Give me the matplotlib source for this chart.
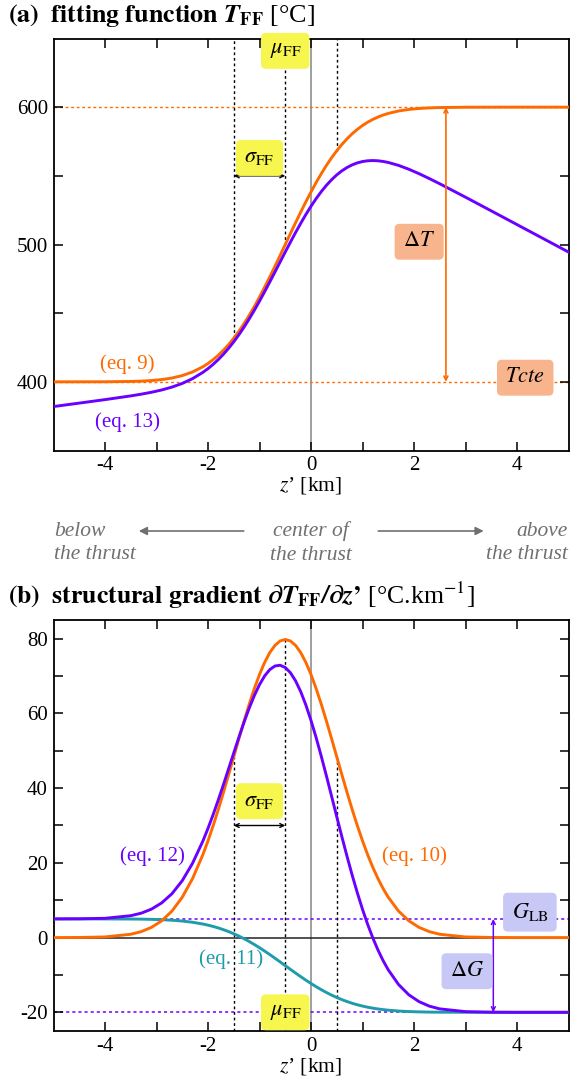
import matplotlib.pyplot as plt
from matplotlib.patches import FancyArrowPatch

plt.rcParams['font.family'] = ['Liberation Serif', 'DejaVu Serif']
plt.rcParams['mathtext.fontset'] = 'stix'
plt.rcParams['axes.unicode_minus'] = False

# depth relative to the thrust, km
z_km = [-5.0, -4.5, -4.0, -3.5, -3.3, -3.1, -2.9, -2.7, -2.5, -2.3, -2.1,
        -2.0, -1.9, -1.8, -1.7, -1.6, -1.5, -1.4, -1.3, -1.2, -1.1, -1.0, -0.9, -0.8,
        -0.7, -0.6, -0.5, -0.4, -0.3, -0.2, -0.1, 0.0, 0.1, 0.2, 0.3, 0.4, 0.5, 0.6,
        0.7, 0.8, 0.9, 1.0, 1.1, 1.2, 1.3, 1.4, 1.5,
        1.7, 1.9, 2.1, 2.3, 2.5, 3.0, 3.5, 4.0, 4.5, 5.0]

# (a) temperature, degC
T_eq9 = [400.00, 400.01, 400.05, 400.27, 400.51, 400.93, 401.64, 402.78, 404.55, 407.19, 410.96,
         413.36, 416.15, 419.36, 423.01, 427.13, 431.73, 436.81, 442.37, 448.39, 454.85, 461.71,
         468.92, 476.42, 484.15, 492.03, 500.00, 507.97, 515.85, 523.58, 531.08, 538.29, 545.15,
         551.61, 557.63, 563.19, 568.27, 572.87, 576.99, 580.64, 583.85, 586.64, 589.04, 591.09,
         592.81, 594.26, 595.45,
         597.22, 598.36, 599.07, 599.49, 599.73, 599.95, 599.99, 600.00, 600.00, 600.00]
T_eq13 = [382.00, 384.51, 387.05, 389.76, 390.99, 392.39, 394.07, 396.16, 398.84, 402.33, 406.88,
          409.63, 412.73, 416.22, 420.11, 424.41, 429.15, 434.30, 439.86, 445.82, 452.13, 458.76,
          465.66, 472.75, 479.98, 487.26, 494.53, 501.70, 508.68, 515.41, 521.82, 527.84, 533.43,
          538.54, 543.12, 547.18, 550.69, 553.65, 556.09, 558.00, 559.43, 560.41, 560.96, 561.13,
          560.95, 560.48, 559.74,
          557.60, 554.79, 551.53, 547.97, 544.22, 534.45, 524.49, 514.50, 504.50, 494.50]

# (b) structural gradient, degC/km
G_eq10 = [0.00, 0.03, 0.17, 0.89, 1.58, 2.72, 4.48, 7.09, 10.80, 15.79, 22.18,
          25.90, 29.95, 34.27, 38.84, 43.57, 48.39, 53.22, 57.94, 62.45, 66.64, 70.41, 73.65,
          76.28, 78.21, 79.39, 79.79, 79.39, 78.21, 76.28, 73.65, 70.41, 66.64, 62.45, 57.94,
          53.22, 48.39, 43.57, 38.84, 34.27, 29.95, 25.90, 22.18, 18.81, 15.79, 13.12, 10.80,
          7.09, 4.48, 2.72, 1.58, 0.89, 0.17, 0.03, 0.00, 0.00, 0.00]
G_eq11 = [5.00, 5.00, 4.99, 4.97, 4.94, 4.88, 4.80, 4.65, 4.43, 4.10, 3.63,
          3.33, 2.98, 2.58, 2.12, 1.61, 1.03, 0.40, -0.30, -1.05, -1.86, -2.71, -3.61, -4.55,
          -5.52, -6.50, -7.50, -8.50, -9.48, -10.45, -11.39, -12.29, -13.14, -13.95, -14.70,
          -15.40, -16.03, -16.61, -17.12, -17.58, -17.98, -18.33, -18.63, -18.89, -19.10,
          -19.28, -19.43,
          -19.65, -19.80, -19.88, -19.94, -19.97, -19.99, -20.00, -20.00, -20.00, -20.00]
G_eq12 = [5.00, 5.03, 5.16, 5.86, 6.52, 7.60, 9.28, 11.74, 15.23, 19.89, 25.81,
          29.23, 32.93, 36.85, 40.96, 45.18, 49.42, 53.62, 57.64, 61.40, 64.78, 67.70, 70.04,
          71.73, 72.69, 72.89, 72.29, 70.89, 68.73, 65.83, 62.26, 58.12, 53.50, 48.50, 43.24,
          37.82, 32.36, 26.96, 21.72, 16.69, 11.97, 7.57, 3.55, -0.08, -3.31, -6.16, -8.63,
          -12.56, -15.32, -17.16, -18.36, -19.08, -19.82, -19.97, -20.00, -20.00, -20.00]

T_cte, dT = 400, 200
G_lb, G_ub = 5, -20
mu_ff, sigma_ff = -0.5, 1.0
z_arrow_T, z_arrow_G = 2.62, 3.54

ORANGE = '#ff6a00'
PURPLE = '#6a00ff'
TEAL = '#1f9bab'
YELLOW = '#f6f64e'
SALMON = '#f8b48c'
LAVENDER = '#c8c8f6'
GREY = '#707070'

W, H = 570, 1082
fig = plt.figure(figsize=(W / 100, H / 100), dpi=100)


def px_axes(l, t, r, b):
    return fig.add_axes([l / W, 1 - b / H, (r - l) / W, (b - t) / H])


ax1 = px_axes(53.5, 38.5, 568.5, 450.5)
ax2 = px_axes(53.5, 620, 568.5, 1031)

for ax in (ax1, ax2):
    ax.set_xlim(-5, 5)
    ax.set_xticks([-4, -2, 0, 2, 4])
    ax.set_xticks(range(-4, 5), minor=True)
    ax.tick_params(which='both', direction='in', top=True, right=True,
                   length=6.5, width=1.1, labelsize=15, pad=4)
    for s in ax.spines.values():
        s.set_linewidth(1.3)
    ax.set_xlabel(r'$z$’ [km]', fontsize=15.5, labelpad=0)
    ax.axvline(0, color='#8f8f8f', lw=1.2, zorder=1)


def box(ax, x, y, s, fc, size=16):
    ax.text(x, y, s, ha='center', va='center', fontsize=size, zorder=6,
            bbox=dict(boxstyle='round,pad=0.38,rounding_size=0.22', fc=fc, ec='none'))


def double_arrow(ax, x0, y0, x1, y1, color, lw=1.0, ms=7):
    ax.annotate('', xy=(x1, y1), xytext=(x0, y0),
                arrowprops=dict(arrowstyle='<->', color=color, lw=lw,
                                shrinkA=0, shrinkB=0, mutation_scale=ms), zorder=5)


dots = (0, (2, 2))
i_lo, i_mu, i_hi = z_km.index(mu_ff - sigma_ff), z_km.index(mu_ff), z_km.index(mu_ff + sigma_ff)
z_marks = [z_km[i_lo], z_km[i_mu], z_km[i_hi]]

# ---------------- (a) fitting function
ax1.set_ylim(350, 650)
ax1.set_yticks([400, 500, 600])
ax1.set_yticks([450, 550], minor=True)
ax1.axhline(T_cte, color=ORANGE, lw=1, ls=dots, zorder=1)
ax1.axhline(T_cte + dT, color=ORANGE, lw=1, ls=dots, zorder=1)
ax1.vlines(z_marks, [T_eq9[i_lo], T_eq9[i_mu], T_eq9[i_hi]], 650,
           colors='black', lw=1, linestyles=dots, zorder=1)
ax1.plot(z_km, T_eq9, color=ORANGE, lw=2.1, zorder=3)
ax1.plot(z_km, T_eq13, color=PURPLE, lw=2.1, zorder=3)
double_arrow(ax1, z_arrow_T, T_cte, z_arrow_T, T_cte + dT, ORANGE, lw=1.2)
double_arrow(ax1, mu_ff - sigma_ff, 550, mu_ff, 550, 'black')
box(ax1, mu_ff, 641, r'$\mu_{\mathrm{FF}}$', YELLOW)
box(ax1, mu_ff - sigma_ff / 2, 563, r'$\sigma_{\mathrm{FF}}$', YELLOW)
box(ax1, 2.1, 502, r'$\Delta T$', SALMON)
box(ax1, 4.16, 403, r'$Tcte$', SALMON)
ax1.text(-3.57, 413, '(eq. 9)', color=ORANGE, fontsize=15, ha='center', va='center')
ax1.text(-3.57, 371, '(eq. 13)', color=PURPLE, fontsize=15, ha='center', va='center')

# ---------------- (b) structural gradient
ax2.set_ylim(-25, 85)
ax2.set_yticks([-20, 0, 20, 40, 60, 80])
ax2.set_yticks([-10, 10, 30, 50, 70], minor=True)
ax2.axhline(0, color='#222222', lw=1.1, zorder=1)
ax2.axhline(G_lb, color=PURPLE, lw=1.1, ls=dots, zorder=1)
ax2.axhline(G_ub, color=PURPLE, lw=1.1, ls=dots, zorder=1)
ax2.vlines(z_marks, -25, [G_eq10[i_lo], G_eq10[i_mu], G_eq10[i_hi]],
           colors='black', lw=1, linestyles=dots, zorder=1)
ax2.plot(z_km, G_eq11, color=TEAL, lw=2.1, zorder=3)
ax2.plot(z_km, G_eq10, color=ORANGE, lw=2.1, zorder=3)
ax2.plot(z_km, G_eq12, color=PURPLE, lw=2.1, zorder=4)
double_arrow(ax2, z_arrow_G, G_lb, z_arrow_G, G_ub, PURPLE, lw=1.1)
double_arrow(ax2, mu_ff - sigma_ff, 30, mu_ff, 30, 'black')
box(ax2, mu_ff - sigma_ff / 2, 36.5, r'$\sigma_{\mathrm{FF}}$', YELLOW)
box(ax2, mu_ff, G_ub, r'$\mu_{\mathrm{FF}}$', YELLOW)
box(ax2, 4.25, 6.8, r'$G_{\mathrm{LB}}$', LAVENDER)
box(ax2, 3.03, -9, r'$\Delta G$', LAVENDER)
ax2.text(-3.07, 21.7, '(eq. 12)', color=PURPLE, fontsize=15, ha='center', va='center')
ax2.text(2.0, 21.7, '(eq. 10)', color=ORANGE, fontsize=15, ha='center', va='center')
ax2.text(-1.55, -5.7, '(eq. 11)', color=TEAL, fontsize=15, ha='center', va='center')

# ---------------- titles
fig.text(8 / W, 1 - 22 / H,
         r'$\mathbf{(a)\ \ fitting\ function\ }\mathbfit{T}_{\mathbf{FF}}$ [°C]',
         fontsize=18.7, ha='left', va='baseline')
fig.text(8 / W, 1 - 604 / H,
         r'$\mathbf{(b)\ \ structural\ gradient\ }\mathbfit{\partial T}_{\mathbf{FF}}'
         r'\mathbfit{/\partial z}\mathbf{’}$ [°C.km$^{\mathrm{-1}}$]',
         fontsize=18.5, ha='left', va='baseline')

# ---------------- orientation row between the panels
row_y = 1 - 543 / H
fig.text(54 / W, row_y, 'below\nthe thrust', ha='left', va='center', style='italic',
         color=GREY, fontsize=15.5, linespacing=1.35)
fig.text(311 / W, row_y, 'center of\nthe thrust', ha='center', va='center', style='italic',
         color=GREY, fontsize=15.5, linespacing=1.35, multialignment='center')
fig.text(568 / W, row_y, 'above\nthe thrust', ha='right', va='center', style='italic',
         color=GREY, fontsize=15.5, linespacing=1.35, multialignment='right')
arrow_y = 1 - 531 / H
for x0, x1 in [(246.5, 136), (375.5, 486.5)]:
    fig.add_artist(FancyArrowPatch((x0 / W, arrow_y), (x1 / W, arrow_y),
                                   transform=fig.transFigure, arrowstyle='-|>',
                                   mutation_scale=12, color=GREY, lw=1.2))

fig.savefig('out.png', dpi=100)
